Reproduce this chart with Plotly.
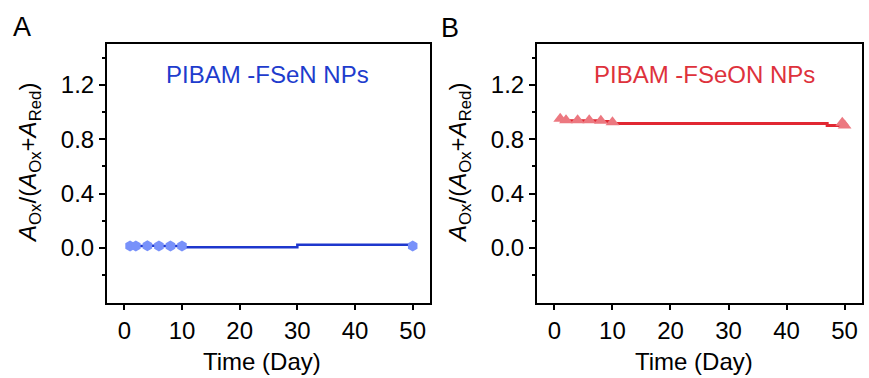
import plotly.graph_objects as go

# ---- data ----
days_a_pts = [1, 2, 4, 6, 8, 10, 50]
vals_a_pts = [0.015, 0.015, 0.016, 0.015, 0.015, 0.014, 0.015]
days_a_line = [1, 2, 4, 6, 8, 10, 30, 50]
vals_a_line = [0.015, 0.015, 0.016, 0.015, 0.015, 0.005, 0.024, 0.024]

days_b_pts = [1, 2, 4, 6, 8, 10, 49.6, 50]
vals_b_pts = [0.95, 0.94, 0.94, 0.94, 0.935, 0.925, 0.92, 0.90]
days_b_line = [1, 2, 4, 6, 8, 10, 47, 50]
vals_b_line = [0.94, 0.935, 0.935, 0.935, 0.93, 0.915, 0.90, 0.90]

x_ticks = [0, 10, 20, 30, 40, 50]
y_ticks = [0.0, 0.4, 0.8, 1.2]
y_ticktext = ["0.0", "0.4", "0.8", "1.2"]

title_a = "PIBAM -FSeN NPs"
title_b = "PIBAM -FSeON NPs"
y_title = "<i>A</i><sub>Ox</sub>/(<i>A</i><sub>Ox</sub>+<i>A</i><sub>Red</sub>)"
x_title = "Time (Day)"

BLUE_LINE = "rgb(30,55,205)"
BLUE_MK = "rgb(120,145,250)"
BLUE_TXT = "rgb(30,60,205)"
RED_LINE = "rgb(225,40,50)"
RED_MK = "rgb(236,120,128)"
RED_TXT = "rgb(222,50,60)"

W, H = 869, 378
FONT = "Liberation Sans, Arial, sans-serif"

fig = go.Figure()
fig.add_trace(go.Scatter(x=days_a_line, y=vals_a_line, mode="lines", line=dict(color=BLUE_LINE, width=2.5, shape="hv"),
                         xaxis="x", yaxis="y", showlegend=False))
fig.add_trace(go.Scatter(x=days_a_pts, y=vals_a_pts, mode="markers",
                         marker=dict(color=BLUE_MK, size=11, symbol="hexagon"),
                         xaxis="x", yaxis="y", showlegend=False))
fig.add_trace(go.Scatter(x=days_b_line, y=vals_b_line, mode="lines", line=dict(color=RED_LINE, width=3, shape="hv"),
                         xaxis="x2", yaxis="y2", showlegend=False))
fig.add_trace(go.Scatter(x=days_b_pts, y=vals_b_pts, mode="markers",
                         marker=dict(color=RED_MK, size=12, symbol="triangle-up"),
                         xaxis="x2", yaxis="y2", showlegend=False))

ydom = [(H - 303) / H, (H - 44) / H]

def xax(dom, anchor):
    return dict(domain=dom, anchor=anchor, range=[-3, 53], tickvals=x_ticks, ticks="outside", ticklen=5,
                tickwidth=2, tickcolor="black", showline=True, linecolor="black", linewidth=2, mirror=True,
                showgrid=False, zeroline=False, tickfont=dict(size=24, color="black", family=FONT))

def yax(anchor):
    return dict(domain=ydom, anchor=anchor, range=[-0.405, 1.5], tickvals=y_ticks, ticktext=y_ticktext,
                ticks="outside", ticklen=6, tickwidth=2, tickcolor="black",
                minor=dict(tickvals=[-0.2, 0.2, 0.6, 1.0, 1.4], ticks="outside", ticklen=3, tickwidth=2, tickcolor="black"),
                showline=True, linecolor="black", linewidth=2, mirror=True,
                showgrid=False, zeroline=False, tickfont=dict(size=24, color="black", family=FONT))

fig.update_layout(
    width=W, height=H, margin=dict(l=0, r=0, t=0, b=0),
    paper_bgcolor="white", plot_bgcolor="white",
    font=dict(family=FONT, color="black"),
    xaxis=xax([107 / W, 430 / W], "y"),
    yaxis=yax("x"),
    xaxis2=xax([537 / W, 862 / W], "y2"),
    yaxis2=yax("x2"),
)

ann = [
    dict(text="A", x=22 / W, y=(H - 27) / H, font=dict(size=27)),
    dict(text="B", x=450 / W, y=(H - 28) / H, font=dict(size=27)),
    dict(text=title_a, x=267 / W, y=(H - 74) / H, font=dict(size=24, color=BLUE_TXT)),
    dict(text=title_b, x=704 / W, y=(H - 74) / H, font=dict(size=24, color=RED_TXT)),
    dict(text=y_title, x=30 / W, y=(H - 163) / H, textangle=-90, font=dict(size=24)),
    dict(text=y_title, x=460 / W, y=(H - 163) / H, textangle=-90, font=dict(size=24)),
    dict(text=x_title, x=262 / W, y=(H - 361) / H, font=dict(size=24)),
    dict(text=x_title, x=694 / W, y=(H - 361) / H, font=dict(size=24)),
]
for a in ann:
    a.update(xref="paper", yref="paper", showarrow=False, xanchor="center", yanchor="middle")
    a["font"].setdefault("color", "black")
    a["font"]["family"] = FONT
fig.update_layout(annotations=ann)

fig.write_html("out.html")
